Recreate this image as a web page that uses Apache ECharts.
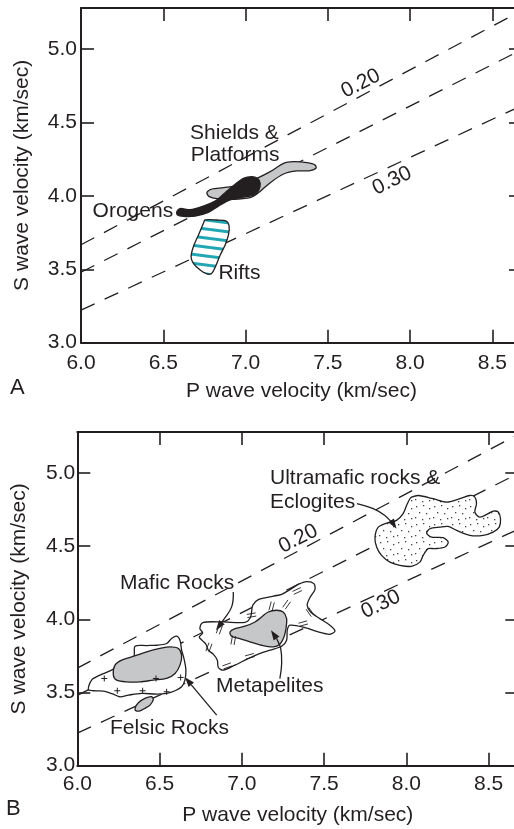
<!DOCTYPE html>
<html>
<head>
<meta charset="utf-8">
<title>Crustal rock velocities</title>
<script src="https://cdn.jsdelivr.net/npm/echarts@6/dist/echarts.min.js"></script>
<style>
  html, body { margin: 0; padding: 0; background: #ffffff; }
  #chart { width: 514px; height: 829px; }
</style>
</head>
<body>
<div id="chart"></div>
<script>
// ---------- axis ticks ----------
const vpTickLabels = ['6.0', '6.5', '7.0', '7.5', '8.0', '8.5'];
const vsTickLabels = ['3.0', '3.5', '4.0', '4.5', '5.0'];

// ---------- constant Poisson's ratio lines (Vp, Vs end points) ----------
const ratioLineVp = [6.0, 8.68];
const ratio020Vs = [3.667, 5.264];
const ratio025Vs = [3.480, 4.997];
const ratio030Vs = [3.222, 4.616];

// ---------- panel A: crustal provinces ----------
const shieldsPlatforms = [
  [6.765, 4.022], [6.795, 4.047], [6.866, 4.056], [6.967, 4.074], [7.069, 4.120],
  [7.150, 4.165], [7.231, 4.222], [7.291, 4.233], [7.373, 4.226], [7.423, 4.210],
  [7.428, 4.188], [7.393, 4.172], [7.312, 4.170], [7.231, 4.149], [7.150, 4.090],
  [7.069, 4.013], [7.028, 3.988], [6.926, 3.977], [6.825, 3.981], [6.780, 3.995]
];
const orogens = [
  [6.582, 3.892], [6.602, 3.914], [6.663, 3.906], [6.744, 3.931], [6.815, 3.965],
  [6.876, 4.022], [6.937, 4.079], [6.987, 4.120], [7.038, 4.131], [7.072, 4.120],
  [7.089, 4.086], [7.079, 4.035], [7.048, 4.006], [6.967, 3.988], [6.896, 3.968],
  [6.835, 3.930], [6.774, 3.888], [6.693, 3.862], [6.622, 3.860], [6.586, 3.870]
];
const rifts = [
  [6.754, 3.836], [6.825, 3.836], [6.882, 3.829], [6.900, 3.795], [6.896, 3.734],
  [6.876, 3.666], [6.846, 3.597], [6.817, 3.518], [6.795, 3.473], [6.765, 3.468],
  [6.724, 3.495], [6.683, 3.541], [6.669, 3.586], [6.683, 3.654], [6.714, 3.734],
  [6.744, 3.813]
];

// ---------- panel B: rock types ----------
const felsicRocks = [
  [6.067, 3.521], [6.087, 3.585], [6.138, 3.619], [6.199, 3.648], [6.243, 3.675],
  [6.300, 3.703], [6.344, 3.743], [6.351, 3.816], [6.422, 3.821], [6.482, 3.823],
  [6.543, 3.835], [6.573, 3.869], [6.604, 3.885], [6.624, 3.857], [6.634, 3.789],
  [6.648, 3.733], [6.660, 3.653], [6.654, 3.585], [6.634, 3.539], [6.594, 3.512],
  [6.543, 3.494], [6.482, 3.489], [6.391, 3.494], [6.310, 3.482], [6.259, 3.471],
  [6.219, 3.489], [6.158, 3.510], [6.097, 3.512]
];
const felsicCore = [
  [6.219, 3.619], [6.229, 3.687], [6.270, 3.721], [6.330, 3.743], [6.422, 3.778],
  [6.502, 3.801], [6.563, 3.812], [6.614, 3.801], [6.634, 3.755], [6.624, 3.687],
  [6.594, 3.630], [6.543, 3.596], [6.462, 3.585], [6.381, 3.573], [6.300, 3.573],
  [6.239, 3.585]
];
const felsicPod = [
  [6.351, 3.392], [6.371, 3.430], [6.411, 3.460], [6.452, 3.471], [6.462, 3.453],
  [6.442, 3.414], [6.411, 3.392], [6.381, 3.375], [6.357, 3.375]
];
const felsicCrosses = [
  [6.164, 3.596], [6.243, 3.512], [6.397, 3.512], [6.478, 3.596], [6.543, 3.505], [6.628, 3.603]
];
const maficRocks = [
  [6.762, 3.978], [6.887, 3.982], [7.019, 3.980], [7.053, 4.016], [7.066, 4.096],
  [7.100, 4.135], [7.171, 4.153], [7.242, 4.171], [7.292, 4.203], [7.343, 4.239],
  [7.394, 4.258], [7.438, 4.244], [7.444, 4.203], [7.414, 4.149], [7.397, 4.096],
  [7.418, 4.050], [7.474, 4.005], [7.535, 3.960], [7.566, 3.921], [7.535, 3.898],
  [7.464, 3.914], [7.383, 3.944], [7.292, 3.960], [7.276, 3.926], [7.272, 3.857],
  [7.242, 3.816], [7.171, 3.789], [7.100, 3.762], [7.029, 3.726], [6.958, 3.687],
  [6.887, 3.653], [6.857, 3.671], [6.851, 3.721], [6.826, 3.762], [6.796, 3.789],
  [6.782, 3.830], [6.762, 3.853], [6.741, 3.880], [6.762, 3.907], [6.745, 3.937]
];
const maficHatchAt = [
  [7.181, 4.089], [7.272, 4.101], [7.337, 4.194], [7.059, 4.028], [6.863, 3.930], [6.948, 3.857],
  [6.800, 3.808], [7.049, 3.748], [6.911, 3.682], [7.373, 3.971], [7.414, 4.050]
];
const maficHatchTilt = [75, 55, 25, 10, 70, 80, 70, 15, 20, 15, -55];
const metapelites = [
  [6.928, 3.914], [6.958, 3.937], [7.019, 3.953], [7.080, 3.982], [7.120, 4.016],
  [7.160, 4.050], [7.211, 4.062], [7.251, 4.050], [7.272, 4.005], [7.268, 3.937],
  [7.256, 3.880], [7.231, 3.830], [7.191, 3.812], [7.120, 3.823], [7.049, 3.846],
  [6.988, 3.869], [6.938, 3.885]
];
const ultramaficEclogites = [
  [8.031, 4.835], [8.072, 4.846], [8.163, 4.824], [8.244, 4.801], [8.325, 4.824],
  [8.386, 4.846], [8.416, 4.835], [8.426, 4.790], [8.416, 4.733], [8.446, 4.698],
  [8.497, 4.722], [8.527, 4.739], [8.558, 4.733], [8.572, 4.688], [8.564, 4.630],
  [8.527, 4.596], [8.466, 4.574], [8.386, 4.574], [8.305, 4.608], [8.254, 4.635],
  [8.203, 4.630], [8.143, 4.619], [8.123, 4.589], [8.153, 4.562], [8.223, 4.558],
  [8.254, 4.528], [8.234, 4.494], [8.173, 4.483], [8.132, 4.483], [8.102, 4.437],
  [8.082, 4.391], [8.031, 4.362], [7.960, 4.369], [7.900, 4.391], [7.849, 4.437],
  [7.819, 4.494], [7.809, 4.562], [7.829, 4.630], [7.880, 4.658], [7.940, 4.676],
  [7.980, 4.722], [8.001, 4.778], [8.021, 4.824]
];

// ---------- leader arrows (tail ... head) ----------
const maficArrow = [[6.948, 4.187], [6.938, 4.085], [6.887, 3.994], [6.843, 3.926]];
const felsicArrow = [[6.847, 3.346], [6.654, 3.605]];
const metapeliteArrow = [[7.231, 3.595], [7.242, 3.698], [7.236, 3.801], [7.211, 3.869], [7.177, 3.926]];
const ultramaficArrow = [[7.699, 4.790], [7.798, 4.756], [7.869, 4.710], [7.920, 4.653], [7.940, 4.619]];

// ---------- annotations ----------
const labelsA = [
  { text: 'Shields &', at: [6.663, 4.428] },
  { text: 'Platforms', at: [6.667, 4.274] },
  { text: 'Orogens', at: [6.560, 3.897], align: 'right' },
  { text: 'Rifts', at: [6.835, 3.471] },
  { text: '0.20', at: [7.701, 4.765], rotate: 27, align: 'center' },
  { text: '0.30', at: [7.890, 4.103], rotate: 26, align: 'center' }
];
const labelsB = [
  { text: 'Ultramafic rocks &', at: [7.171, 4.967] },
  { text: 'Eclogites', at: [7.171, 4.801] },
  { text: 'Mafic Rocks', at: [6.259, 4.250] },
  { text: 'Metapelites', at: [6.843, 3.545] },
  { text: 'Felsic Rocks', at: [6.199, 3.259] },
  { text: '0.20', at: [7.343, 4.551], rotate: 27, align: 'center' },
  { text: '0.30', at: [7.844, 4.102], rotate: 26, align: 'center' }
];

// ---------- styling ----------
const FONT = '"Liberation Sans", Arial, Helvetica, sans-serif';
const INK = '#231f20';
const GREY = '#c6c7c9';
const TEAL = '#22a6b4';
const FS = 21;

function stripeFill() {
  const c = document.createElement('canvas');
  c.width = 70; c.height = 9;
  const g = c.getContext('2d');
  g.fillStyle = '#ffffff';
  g.fillRect(0, 0, 70, 9);
  g.strokeStyle = TEAL;
  g.lineWidth = 3;
  for (const off of [-9, 0, 9]) {
    g.beginPath();
    g.moveTo(0, 4.5 + off);
    g.lineTo(70, 13.5 + off);
    g.stroke();
  }
  return { image: c, repeat: 'repeat' };
}

function stippleFill() {
  const c = document.createElement('canvas');
  c.width = 18; c.height = 18;
  const g = c.getContext('2d');
  g.fillStyle = '#ffffff';
  g.fillRect(0, 0, 18, 18);
  g.fillStyle = '#444444';
  const dots = [[2, 2], [9, 1], [15, 4], [5, 8], [12, 9], [1, 13], [8, 15], [15, 14]];
  for (const d of dots) g.fillRect(d[0], d[1], 1.3, 1.3);
  return { image: c, repeat: 'repeat' };
}

function tickFormatter(list) {
  return function (v) {
    const s = v.toFixed(1);
    return list.indexOf(s) >= 0 && Math.abs(v - parseFloat(s)) < 1e-6 ? s : '';
  };
}

const axisLineStyle = { show: true, onZero: false, lineStyle: { color: INK, width: 2 } };
const tickStyle = { show: true, inside: true, length: 13, lineStyle: { color: INK, width: 1.6 } };
const nameStyle = { fontSize: FS, color: INK, fontFamily: FONT };

function vpAxes(grid, labelMargin, nameGap) {
  return [
    {
      type: 'value', gridIndex: grid, position: 'bottom', min: 6.0, max: 8.68, interval: 0.5,
      axisLine: axisLineStyle, axisTick: tickStyle, splitLine: { show: false },
      axisLabel: { margin: labelMargin, fontSize: FS, color: INK, fontFamily: FONT, formatter: tickFormatter(vpTickLabels) },
      name: 'P wave velocity (km/sec)', nameLocation: 'middle', nameGap: nameGap, nameTextStyle: nameStyle
    },
    {
      type: 'value', gridIndex: grid, position: 'top', min: 6.0, max: 8.68, interval: 0.5,
      axisLine: axisLineStyle, axisTick: tickStyle, splitLine: { show: false }, axisLabel: { show: false }
    }
  ];
}

function vsAxes(grid, labelMargin, nameGap) {
  return [
    {
      type: 'value', gridIndex: grid, position: 'left', min: 3.0, max: 5.28, interval: 0.5,
      axisLine: axisLineStyle, axisTick: tickStyle, splitLine: { show: false },
      axisLabel: { margin: labelMargin, fontSize: FS, color: INK, fontFamily: FONT, formatter: tickFormatter(vsTickLabels) },
      name: 'S wave velocity (km/sec)', nameLocation: 'middle', nameGap: nameGap, nameTextStyle: nameStyle
    },
    {
      type: 'value', gridIndex: grid, position: 'right', min: 3.0, max: 5.28, interval: 0.5,
      axisLine: axisLineStyle, axisTick: tickStyle, splitLine: { show: false }, axisLabel: { show: false }
    }
  ];
}

function ratioLines(panel) {
  const mk = (vs) => ({
    type: 'line', xAxisIndex: panel * 2, yAxisIndex: panel * 2, z: 1,
    data: ratioLineVp.map((vp, i) => [vp, vs[i]]),
    symbol: 'none', silent: true, animation: false,
    lineStyle: { color: INK, width: 1.3, type: [15, 11] }
  });
  return [mk(ratio020Vs), mk(ratio025Vs), mk(ratio030Vs)];
}

function region(points, panel, style, z) {
  return {
    type: 'custom', xAxisIndex: panel * 2, yAxisIndex: panel * 2, z: z || 3,
    data: points, silent: true,
    renderItem(params, api) {
      if (params.dataIndex !== 0) return null;
      return {
        type: 'polygon',
        shape: { points: points.map(p => api.coord(p)), smooth: 0.3 },
        style: style
      };
    }
  };
}

function arrow(points, panel) {
  return {
    type: 'custom', xAxisIndex: panel * 2, yAxisIndex: panel * 2, z: 6,
    data: points, silent: true,
    renderItem(params, api) {
      if (params.dataIndex !== 0) return null;
      const px = points.map(p => api.coord(p));
      const tip = px[px.length - 1];
      const prev = px[px.length - 2];
      const dx = tip[0] - prev[0], dy = tip[1] - prev[1];
      const len = Math.hypot(dx, dy) || 1;
      const ux = dx / len, uy = dy / len;
      const L = 10, W = 3.5;
      const base = [tip[0] - ux * L, tip[1] - uy * L];
      const line = px.slice(0, -1).concat([base]);
      return {
        type: 'group',
        children: [
          { type: 'polyline', shape: { points: line, smooth: px.length > 2 ? 0.4 : 0 },
            style: { stroke: INK, lineWidth: 1.3, fill: null } },
          { type: 'polygon', shape: { points: [tip, [base[0] - uy * W, base[1] + ux * W], [base[0] + uy * W, base[1] - ux * W]] },
            style: { fill: INK } }
        ]
      };
    }
  };
}

function crosses(points, panel) {
  return {
    type: 'custom', xAxisIndex: panel * 2, yAxisIndex: panel * 2, z: 5,
    data: points, silent: true,
    renderItem(params, api) {
      const p = api.coord([api.value(0), api.value(1)]);
      const s = 3;
      return {
        type: 'group',
        children: [
          { type: 'line', shape: { x1: p[0] - s, y1: p[1], x2: p[0] + s, y2: p[1] }, style: { stroke: INK, lineWidth: 1 } },
          { type: 'line', shape: { x1: p[0], y1: p[1] - s, x2: p[0], y2: p[1] + s }, style: { stroke: INK, lineWidth: 1 } }
        ]
      };
    }
  };
}

function hatches(points, tilts, panel) {
  return {
    type: 'custom', xAxisIndex: panel * 2, yAxisIndex: panel * 2, z: 5,
    data: points, silent: true,
    renderItem(params, api) {
      const p = api.coord([api.value(0), api.value(1)]);
      const a = tilts[params.dataIndex] * Math.PI / 180;
      const ux = Math.cos(a), uy = -Math.sin(a);
      const nx = -uy, ny = ux;
      const h = 4.5, gap = 1.6;
      const kids = [-1, 1].map(k => ({
        type: 'line',
        shape: {
          x1: p[0] - ux * h + nx * gap * k, y1: p[1] - uy * h + ny * gap * k,
          x2: p[0] + ux * h + nx * gap * k, y2: p[1] + uy * h + ny * gap * k
        },
        style: { stroke: INK, lineWidth: 0.9 }
      }));
      return { type: 'group', children: kids };
    }
  };
}

function labels(items, panel) {
  return {
    type: 'custom', xAxisIndex: panel * 2, yAxisIndex: panel * 2, z: 7,
    data: items.map(t => t.at), silent: true,
    renderItem(params, api) {
      const t = items[params.dataIndex];
      const p = api.coord(t.at);
      return {
        type: 'text', x: p[0], y: p[1],
        rotation: (t.rotate || 0) * Math.PI / 180,
        style: {
          text: t.text, fill: INK, font: FS + 'px ' + FONT,
          align: t.align || 'left', verticalAlign: 'middle'
        }
      };
    }
  };
}

const chart = echarts.init(document.getElementById('chart'), null, { renderer: 'canvas' });

const outline = { stroke: INK, lineWidth: 1.3 };

chart.setOption({
  animation: false,
  backgroundColor: '#ffffff',
  grid: [
    { left: 81, top: 8, width: 441, height: 334.7, containLabel: false, outerBoundsMode: 'none' },
    { left: 77.3, top: 432, width: 441, height: 333.7, containLabel: false, outerBoundsMode: 'none' }
  ],
  xAxis: vpAxes(0, 10, 38).concat(vpAxes(1, 8, 39)),
  yAxis: vsAxes(0, 4, 48).concat(vsAxes(1, 2, 48)),
  graphic: [
    { type: 'text', left: 10, top: 377, style: { text: 'A', font: '22px ' + FONT, fill: INK } },
    { type: 'text', left: 6, top: 798, style: { text: 'B', font: '22px ' + FONT, fill: INK } }
  ],
  series: [].concat(
    ratioLines(0),
    ratioLines(1),
    [
      region(shieldsPlatforms, 0, Object.assign({ fill: GREY }, outline), 3),
      region(orogens, 0, { fill: INK, stroke: INK, lineWidth: 1.3 }, 4),
      region(rifts, 0, Object.assign({ fill: stripeFill() }, outline), 3),
      labels(labelsA, 0),

      region(felsicRocks, 1, Object.assign({ fill: '#ffffff' }, outline), 3),
      region(felsicCore, 1, Object.assign({ fill: GREY }, outline), 4),
      region(felsicPod, 1, Object.assign({ fill: GREY }, outline), 4),
      crosses(felsicCrosses, 1),
      region(maficRocks, 1, Object.assign({ fill: '#ffffff' }, outline), 3),
      hatches(maficHatchAt, maficHatchTilt, 1),
      region(metapelites, 1, Object.assign({ fill: GREY }, outline), 4),
      region(ultramaficEclogites, 1, Object.assign({ fill: stippleFill() }, outline), 3),
      arrow(maficArrow, 1),
      arrow(felsicArrow, 1),
      arrow(metapeliteArrow, 1),
      arrow(ultramaficArrow, 1),
      labels(labelsB, 1)
    ]
  )
});
</script>
</body>
</html>
